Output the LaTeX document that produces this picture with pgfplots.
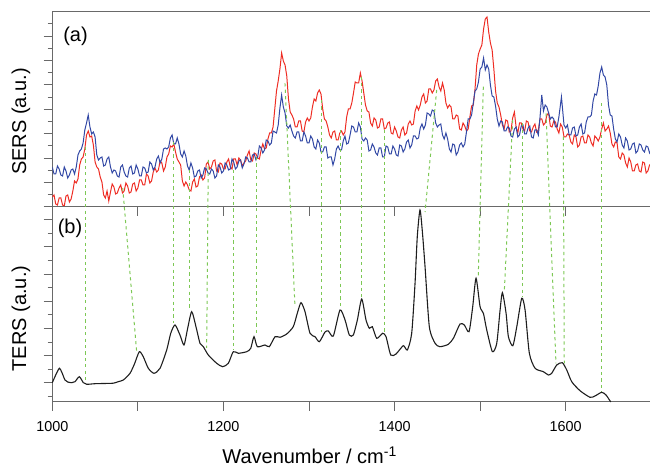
\documentclass[border=0pt]{standalone}
\usepackage{fontspec}
\setmainfont{Liberation Sans}
\usepackage{pgfplots}
\pgfplotsset{compat=1.18}

\definecolor{sersred}{RGB}{238,45,36}
\definecolor{sersblue}{RGB}{50,72,165}
\definecolor{peakgreen}{RGB}{125,200,85}
\definecolor{axisgray}{RGB}{105,105,105}
\definecolor{tersblack}{RGB}{30,30,30}

\pgfplotsset{
  panel/.style={
    scale only axis, width=299.5pt, height=97.5pt,
    xmin=1000, xmax=1700, ymin=0, ymax=195,
    axis line style={axisgray, line width=0.5pt},
    every tick/.style={axisgray, line width=0.5pt},
    tick align=outside,
    major tick length=4.35pt, minor tick length=2.35pt,
    xtick pos=bottom, ytick pos=left,
    yticklabels={},
    xtick={1000,1200,1400,1600},
    extra x ticks={1100,1300,1500}, extra x tick labels={},
    label style={font=\fontsize{10}{12}\selectfont},
  },
  link/.style={peakgreen, line width=0.5pt, dash pattern=on 1.6pt off 1.6pt},
}

\begin{document}
\begin{tikzpicture}
\path[use as bounding box] (0,0) rectangle (325pt,232.5pt);

% (a) SERS
\begin{axis}[panel, at={(26.15pt,129pt)}, anchor=south west,
  xticklabels={},
  ytick={0,24.4,48.8,73.2,97.6,122,146.4,170.8},
  minor ytick={12.2,36.6,61,85.4,109.8,134.2,158.6,183},
  ylabel={SERS (a.u.)},
  ylabel style={at={(axis description cs:-0.0523,0.438)}, anchor=center},
]
\addplot[sersred, line width=0.5pt] coordinates {
(1000,10)(1002,12)(1004,3)(1006,2)(1008,9)(1010,9)(1012,2)(1014,1)(1016,11)(1018,12)
(1020,5)(1022,8)(1024,16)(1026,26)(1028,24)(1030,28)(1032,42)(1034,48)(1036,50)(1038,58)
(1040,72)(1042,76)(1044,70)(1046,71)(1048,62)(1050,45)(1052,40)(1054,38)(1056,30)(1058,25)
(1060,12)(1062,9)(1064,16)(1066,6)(1068,15)(1070,23)(1072,20)(1074,13)(1076,14)(1078,19)
(1080,22)(1082,14)(1084,16)(1086,24)(1088,21)(1090,14)(1092,15)(1094,23)(1096,24)(1098,16)
(1100,19)(1102,27)(1104,27)(1106,22)(1108,22)(1110,33)(1112,31)(1114,24)(1116,26)(1118,35)
(1120,39)(1122,35)(1124,37)(1126,46)(1128,44)(1130,36)(1132,40)(1134,50)(1136,53)(1138,61)
(1140,60)(1142,63)(1144,55)(1146,48)(1148,45)(1150,42)(1152,26)(1154,21)(1156,25)(1158,22)
(1160,17)(1162,16)(1164,25)(1166,28)(1168,20)(1170,21)(1172,30)(1174,32)(1176,27)(1178,29)
(1180,43)(1182,45)(1184,38)(1186,40)(1188,46)(1190,47)(1192,36)(1194,35)(1196,44)(1198,43)
(1200,38)(1202,38)(1204,45)(1206,48)(1208,40)(1210,38)(1212,48)(1214,48)(1216,42)(1218,49)
(1220,47)(1222,41)(1224,44)(1226,46)(1228,52)(1230,56)(1232,47)(1234,46)(1236,54)(1238,53)
(1240,49)(1242,48)(1244,57)(1246,63)(1248,58)(1250,59)(1252,68)(1254,74)(1256,74)(1258,80)
(1260,98)(1262,116)(1264,126)(1266,138)(1268,154)(1270,146)(1272,142)(1274,131)(1276,108)(1278,95)
(1280,92)(1282,88)(1284,80)(1286,80)(1288,86)(1290,86)(1292,76)(1294,75)(1296,85)(1298,89)
(1300,86)(1302,89)(1304,100)(1306,108)(1308,106)(1310,114)(1312,117)(1314,113)(1316,98)(1318,88)
(1320,86)(1322,80)(1324,72)(1326,69)(1328,75)(1330,76)(1332,67)(1334,67)(1336,74)(1338,76)
(1340,72)(1342,75)(1344,90)(1346,98)(1348,98)(1350,104)(1352,114)(1354,125)(1356,124)(1358,124)
(1360,134)(1362,126)(1364,114)(1366,102)(1368,96)(1370,95)(1372,84)(1374,81)(1376,89)(1378,87)
(1380,79)(1382,80)(1384,88)(1386,88)(1388,78)(1390,79)(1392,84)(1394,85)(1396,74)(1398,73)
(1400,80)(1402,76)(1404,70)(1406,69)(1408,77)(1410,80)(1412,72)(1414,74)(1416,83)(1418,86)
(1420,82)(1422,83)(1424,96)(1426,101)(1428,97)(1430,102)(1432,110)(1434,113)(1436,104)(1438,106)
(1440,118)(1442,118)(1444,114)(1446,117)(1448,126)(1450,128)(1452,120)(1454,116)(1456,124)(1458,117)
(1460,104)(1462,99)(1464,102)(1466,100)(1468,88)(1470,88)(1472,92)(1474,91)(1476,78)(1478,77)
(1480,84)(1482,81)(1484,76)(1486,78)(1488,90)(1490,101)(1492,102)(1494,118)(1496,142)(1498,153)
(1500,158)(1502,162)(1504,178)(1506,188)(1508,190)(1510,175)(1512,164)(1514,157)(1516,138)(1518,116)
(1520,104)(1522,100)(1524,92)(1526,82)(1528,78)(1530,87)(1532,86)(1534,75)(1536,76)(1538,89)
(1540,95)(1542,80)(1544,74)(1546,84)(1548,84)(1550,78)(1552,76)(1554,86)(1556,85)(1558,76)
(1560,75)(1562,80)(1564,83)(1566,75)(1568,77)(1570,88)(1572,88)(1574,82)(1576,84)(1578,92)
(1580,94)(1582,81)(1584,80)(1586,86)(1588,85)(1590,78)(1592,74)(1594,83)(1596,80)(1598,70)
(1600,70)(1602,73)(1604,72)(1606,65)(1608,63)(1610,72)(1612,70)(1614,60)(1616,62)(1618,70)
(1620,71)(1622,64)(1624,64)(1626,72)(1628,70)(1630,64)(1632,61)(1634,71)(1636,69)(1638,66)
(1640,70)(1642,78)(1644,84)(1646,76)(1648,78)(1650,81)(1652,74)(1654,63)(1656,60)(1658,65)
(1660,64)(1662,50)(1664,48)(1666,54)(1668,52)(1670,44)(1672,40)(1674,49)(1676,45)(1678,36)
(1680,36)(1682,42)(1684,43)(1686,36)(1688,35)(1690,45)(1692,44)(1694,34)(1696,36)(1698,42)
(1700,41)};
\addplot[sersblue, line width=0.5pt] coordinates {
(1000,40)(1002,33)(1004,33)(1006,41)(1008,38)(1010,32)(1012,31)(1014,40)(1016,36)(1018,29)
(1020,32)(1022,37)(1024,38)(1026,33)(1028,40)(1030,52)(1032,56)(1034,58)(1036,64)(1038,77)
(1040,84)(1042,92)(1044,80)(1046,73)(1048,75)(1050,70)(1052,52)(1054,47)(1056,49)(1058,50)
(1060,41)(1062,42)(1064,48)(1066,50)(1068,40)(1070,34)(1072,37)(1074,36)(1076,31)(1078,30)
(1080,40)(1082,42)(1084,35)(1086,31)(1088,30)(1090,39)(1092,41)(1094,33)(1096,34)(1098,42)
(1100,38)(1102,31)(1104,31)(1106,40)(1108,39)(1110,34)(1112,35)(1114,45)(1116,43)(1118,37)
(1120,40)(1122,48)(1124,51)(1126,44)(1128,48)(1130,58)(1132,59)(1134,58)(1136,60)(1138,69)
(1140,72)(1142,63)(1144,63)(1146,69)(1148,63)(1150,53)(1152,50)(1154,56)(1156,51)(1158,41)
(1160,37)(1162,44)(1164,39)(1166,30)(1168,31)(1170,36)(1172,37)(1174,29)(1176,32)(1178,39)
(1180,38)(1182,34)(1184,33)(1186,38)(1188,36)(1190,29)(1192,31)(1194,42)(1196,40)(1198,34)
(1200,36)(1202,44)(1204,42)(1206,37)(1208,38)(1210,48)(1212,45)(1214,38)(1216,40)(1218,46)
(1220,47)(1222,39)(1224,43)(1226,50)(1228,49)(1230,45)(1232,45)(1234,52)(1236,53)(1238,47)
(1240,50)(1242,61)(1244,59)(1246,54)(1248,57)(1250,67)(1252,66)(1254,62)(1256,64)(1258,76)
(1260,75)(1262,74)(1264,82)(1266,99)(1268,112)(1270,100)(1272,94)(1274,81)(1276,79)(1278,82)
(1280,76)(1282,71)(1284,69)(1286,75)(1288,75)(1290,66)(1292,66)(1294,75)(1296,71)(1298,64)
(1300,64)(1302,71)(1304,68)(1306,60)(1308,58)(1310,67)(1312,64)(1314,55)(1316,55)(1318,60)
(1320,60)(1322,49)(1324,50)(1326,50)(1328,42)(1330,48)(1332,58)(1334,61)(1336,57)(1338,57)
(1340,66)(1342,71)(1344,63)(1346,64)(1348,72)(1350,81)(1352,80)(1354,75)(1356,75)(1358,84)
(1360,80)(1362,68)(1364,66)(1366,69)(1368,67)(1370,56)(1372,57)(1374,63)(1376,60)(1378,54)
(1380,52)(1382,59)(1384,59)(1386,50)(1388,50)(1390,61)(1392,60)(1394,53)(1396,53)(1398,61)
(1400,58)(1402,52)(1404,51)(1406,62)(1408,61)(1410,55)(1412,58)(1414,65)(1416,67)(1418,59)
(1420,62)(1422,71)(1424,71)(1426,68)(1428,69)(1430,79)(1432,83)(1434,78)(1436,82)(1438,94)
(1440,93)(1442,91)(1444,97)(1446,96)(1448,84)(1450,80)(1452,82)(1454,83)(1456,72)(1458,68)
(1460,74)(1462,68)(1464,58)(1466,55)(1468,63)(1470,62)(1472,52)(1474,55)(1476,62)(1478,64)
(1480,60)(1482,63)(1484,75)(1486,88)(1488,88)(1490,92)(1492,104)(1494,116)(1496,118)(1498,125)
(1500,138)(1502,140)(1504,149)(1506,137)(1508,142)(1510,138)(1512,122)(1514,111)(1516,110)(1518,101)
(1520,88)(1522,81)(1524,86)(1526,85)(1528,76)(1530,76)(1532,80)(1534,79)(1536,71)(1538,70)
(1540,78)(1542,80)(1544,70)(1546,72)(1548,81)(1550,82)(1552,73)(1554,73)(1556,79)(1558,81)
(1560,70)(1562,69)(1564,77)(1566,77)(1568,72)(1570,90)(1572,112)(1574,96)(1576,102)(1578,100)
(1580,94)(1582,88)(1584,90)(1586,88)(1588,80)(1590,80)(1592,90)(1595,110)(1598,82)(1600,79)
(1602,82)(1604,72)(1606,72)(1608,79)(1610,80)(1612,71)(1614,72)(1616,80)(1618,83)(1620,73)
(1622,74)(1624,85)(1626,90)(1628,90)(1630,92)(1632,106)(1634,113)(1636,112)(1638,121)(1640,134)
(1642,140)(1644,132)(1646,130)(1648,122)(1650,102)(1652,92)(1654,91)(1656,78)(1658,68)(1660,65)
(1662,73)(1664,70)(1666,62)(1668,59)(1670,69)(1672,66)(1674,57)(1676,58)(1678,63)(1680,64)
(1682,54)(1684,56)(1686,63)(1688,62)(1690,57)(1692,55)(1694,61)(1696,60)(1698,54)(1700,57)};
\node[font=\fontsize{10}{12}\selectfont] at (axis description cs:0.0388,0.874) {(a)};
\end{axis}

% (b) TERS, with the dashed peak links drawn up into (a)
\begin{axis}[panel, at={(26.15pt,31.5pt)}, anchor=south west, clip=false,
  xticklabels={1000,1200,1400,1600},
  xticklabel style={font=\fontsize{7.2}{8}\selectfont, yshift=-2pt},
  ytick={19,46.2,73.4,100.6,127.8,155,182.2},
  minor ytick={5.4,32.6,59.8,87,114.2,141.4,168.6},
  ylabel={TERS (a.u.)},
  ylabel style={at={(axis description cs:-0.0523,0.428)}, anchor=center},
  xlabel={Wavenumber / cm\textsuperscript{-1}},
  xlabel style={at={(axis description cs:0.43,-0.272)}, anchor=center},
]
\addplot[link] coordinates {(1039,255.3)(1039,18.7)};
\addplot[link] coordinates {(1082.3,214)(1098.6,50.3)};
\addplot[link] coordinates {(1141.4,260.3)(1141.4,78.7)};
\addplot[link] coordinates {(1160.9,232)(1160.9,92)};
\addplot[link] coordinates {(1182.3,242)(1180.4,54)};
\addplot[link] coordinates {(1211.5,232)(1211.5,52)};
\addplot[link] coordinates {(1238.9,245)(1238.9,67)};
\addplot[link] coordinates {(1271.9,318.7)(1283.6,95.3)};
\addplot[link] coordinates {(1314.8,302)(1314.8,70.3)};
\addplot[link] coordinates {(1337,272)(1337,93.7)};
\addplot[link] coordinates {(1360.8,325.3)(1360.8,105.3)};
\addplot[link] coordinates {(1388,272)(1388,68.7)};
\addplot[link] coordinates {(1449.2,312)(1435.6,190)};
\addplot[link] coordinates {(1503.7,315.3)(1497.8,125.3)};
\addplot[link] coordinates {(1538,282)(1528.2,110.3)};
\addplot[link] coordinates {(1549.3,278.7)(1549.3,105.3)};
\addplot[link] coordinates {(1577,288.7)(1588.6,38.7)};
\addplot[link] coordinates {(1597.2,265.3)(1598.3,38.7)};
\addplot[link] coordinates {(1642,298.7)(1642,10.3)};
\addplot[tersblack, line width=0.55pt, smooth, tension=0.4] coordinates {
(1000,19.3)(1004,27)(1008.2,33.7)(1011,30)(1014.8,22)(1018,20)(1022.6,19.3)(1026.5,20.3)(1031.6,25.3)
(1036.3,19.3)(1040.2,17.7)(1050,18.3)(1060,18.5)(1071.3,18.8)(1077,20.3)(1083,22)(1090.8,28.7)
(1096,38)(1101.7,50.3)(1106.3,45.3)(1112.2,33.7)(1118.9,28.7)(1125.9,33.7)(1133.7,52)(1138.4,68.7)
(1143.4,77)(1149.2,67)(1153.9,57)(1158.2,73.7)(1162.9,90.3)(1167.9,75.3)(1172.6,58.7)(1176.5,55.3)
(1182.3,47)(1192.1,38.7)(1199.1,35.3)(1205.7,38.7)(1211.5,50.3)(1217.4,48.7)(1227.2,50.3)(1231.9,53.7)
(1235.7,65.3)(1239.6,55.3)(1248.6,57)(1253.6,55.3)(1260.3,65.3)(1266.1,64.7)(1273.9,68)(1281.6,75.3)
(1286.3,88.7)(1290.6,99.3)(1295.3,90.3)(1301.2,68.7)(1307,65.3)(1312.1,60.3)(1318.7,70)(1322.6,71)
(1328.4,66)(1336.2,92)(1342.1,82)(1347.1,67)(1351.8,67)(1356.5,82)(1361.6,103)(1366.6,82)
(1370.5,73.7)(1374,75.3)(1379.1,63.7)(1386.1,68.7)(1390,65.3)(1395.5,47)(1401.7,48)(1410.2,56.3)
(1414.9,52)(1420,68.7)(1423.9,118.7)(1426.5,165)(1429.7,192)(1432.5,170)(1435.6,135.3)(1440.6,75.3)
(1447.3,58.7)(1453.1,55.3)(1462.8,57.7)(1468.7,63.7)(1476.5,78)(1481.5,77)(1487,70.3)(1491.3,95.3)
(1495.2,123.7)(1499.9,95.3)(1503.8,88.7)(1507.7,72)(1514.3,50.3)(1519.4,58.7)(1523.3,92)(1526,109.3)
(1530.3,88.7)(1533,65.3)(1538.2,56.3)(1542.8,75.3)(1548.6,103.7)(1552.5,92)(1557.5,48.7)(1564.2,33.7)
(1573.9,30.3)(1579.7,27)(1583.6,28.7)(1589.5,37)(1596,39.3)(1601.2,32)(1607,20.3)(1616.7,11.3)
(1628.4,4.7)(1634.2,6)(1642,9.7)(1647.1,7)(1652.6,0)};
\node[font=\fontsize{10}{12}\selectfont] at (axis description cs:0.0296,0.89) {(b)};
\end{axis}
\end{tikzpicture}
\end{document}
